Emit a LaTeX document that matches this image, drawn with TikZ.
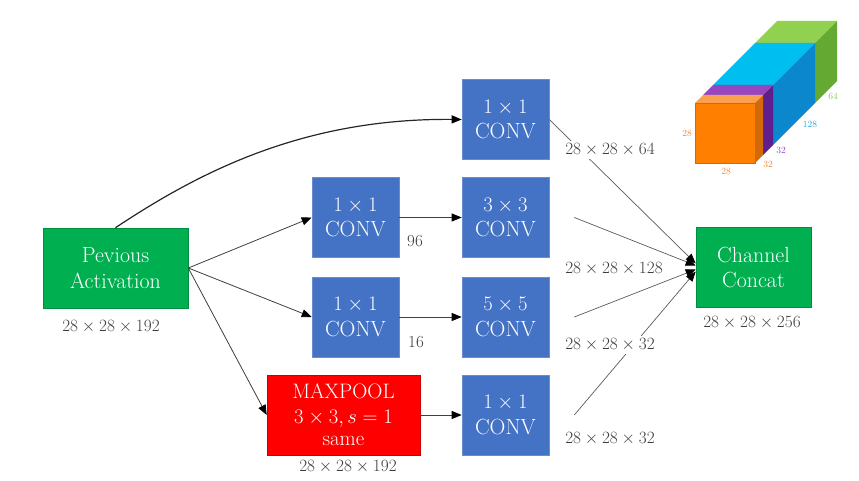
\documentclass[tikz,border=0pt]{standalone}
\usetikzlibrary{arrows.meta}
\definecolor{convblue}{RGB}{68,114,196}
\definecolor{actgreen}{RGB}{0,176,80}
\definecolor{poolred}{RGB}{255,0,0}
\definecolor{lblgray}{RGB}{60,60,60}
\definecolor{linegray}{RGB}{90,90,90}
\definecolor{orF}{RGB}{255,127,0}
\definecolor{orT}{RGB}{248,160,80}
\definecolor{orS}{RGB}{210,105,10}
\definecolor{puT}{RGB}{150,70,190}
\definecolor{puS}{RGB}{95,30,140}
\definecolor{blT}{RGB}{0,190,240}
\definecolor{blS}{RGB}{10,135,205}
\definecolor{grT}{RGB}{146,208,80}
\definecolor{grS}{RGB}{100,170,50}
\definecolor{orL}{RGB}{240,130,50}
\definecolor{puL}{RGB}{140,70,200}
\definecolor{blL}{RGB}{30,170,230}
\definecolor{grL}{RGB}{140,200,80}
\newcommand\cubeslab[4]{%
  \fill[#3] ({695+#1},{103-#1}) -- ({755+#1},{103-#1}) -- ({755+#2},{103-#2}) -- ({695+#2},{103-#2}) -- cycle;
  \fill[#4] ({755+#1},{103-#1}) -- ({755+#2},{103-#2}) -- ({755+#2},{163-#2}) -- ({755+#1},{163-#1}) -- cycle;
}
\tikzset{
  blk/.style={inner sep=0pt, align=center, text=white, line width=0.6bp,
    font=\fontsize{22}{26}\selectfont},
  convbox/.style={blk, fill=convblue, draw=convblue!80!white, minimum width=87bp, minimum height=80bp},
  actbox/.style={blk, fill=actgreen, draw=actgreen!80!black, minimum height=80bp},
  poolbox/.style={blk, fill=poolred, draw=poolred!80!black, minimum width=153bp, minimum height=80bp,
    font=\fontsize{21}{25}\selectfont},
  lbl/.style={inner sep=3bp, text=lblgray, font=\fontsize{17}{20}\selectfont},
  wlbl/.style={lbl, fill=white},
  cubelbl/.style={inner sep=0pt, font=\fontsize{9.5}{10}\selectfont},
  tip/.style={-{Triangle[length=10bp,width=8bp,color=black]}},
  arr/.style={tip, draw=linegray!70!black, line width=0.8bp},
  cline/.style={tip, draw=linegray, line width=0.7bp},
  curvearr/.style={tip, draw=black!85, line width=1.2bp}
}
\begin{document}
\begin{tikzpicture}[x=1bp,y=-1bp]
\useasboundingbox (0,0) rectangle (859,481);

% nodes
\node[actbox, minimum width=145bp] (prev) at (115.5,268) {Pevious\\Activation};
\node[convbox] (c1) at (355.5,217.5) {$1\times1$\\CONV};
\node[convbox] (c2) at (355.5,317) {$1\times1$\\CONV};
\node[convbox] (top) at (505.5,119.5) {$1\times1$\\CONV};
\node[convbox] (c3) at (505.5,217.5) {$3\times3$\\CONV};
\node[convbox] (c5) at (505.5,317) {$5\times5$\\CONV};
\node[convbox] (cb) at (505.5,415) {$1\times1$\\CONV};
\node[poolbox] (mp) at (343.5,415) {MAXPOOL\\$3\times3, s=1$\\[-3bp]same};
\node[actbox, minimum width=115bp] (cc) at (753.5,267.5) {Channel\\Concat};

% connectors
\draw[curvearr] (prev.north) .. controls (195,175) and (300,118) .. (top.west);
\draw[arr] (prev.east) -- (c1.west);
\draw[arr] (prev.east) -- (c2.west);
\draw[arr] (prev.east) -- (mp.west);
\draw[arr] (c1.east) -- (c3.west);
\draw[arr] (c2.east) -- (c5.west);
\draw[arr] (mp.east) -- (cb.west);

\draw[cline] (top.east) -- ([yshift=4bp]cc.west);
\draw[cline] ([xshift=25bp]c3.east) -- ([yshift=2bp]cc.west);
\draw[cline] ([xshift=25bp]c5.east) -- ([yshift=-2bp]cc.west);
\draw[cline] ([xshift=25bp]cb.east) -- ([yshift=-4bp]cc.west);

% labels
\node[lbl] (lprev) at (111,327) {$28\times28\times192$};
\node[lbl] (lmp) at (348,467) {$28\times28\times192$};
\node[lbl] (lcc) at (752,323) {$28\times28\times256$};
\node[lbl] (l96) at (415,241) {96};
\node[lbl] (l16) at (416,342) {16};
\node[wlbl] (l64) at (610,150) {$28\times28\times64$};
\node[wlbl] (l128) at (614,269) {$28\times28\times128$};
\node[wlbl] (l32a) at (610,345) {$28\times28\times32$};
\node[wlbl] (l32b) at (610,439) {$28\times28\times32$};

% cube
\cubeslab{60}{82}{grT}{grS}
\cubeslab{18}{60}{blT}{blS}
\cubeslab{8}{18}{puT}{puS}
\cubeslab{0}{8}{orT}{orS}
\fill[orF] (695,103) rectangle (755,163);
\draw[orS, line width=0.5bp] (695,103) rectangle (755,163);
\node[cubelbl, text=orL] (k28a) at (687,133) {28};
\node[cubelbl, text=orL] (k28b) at (726,171) {28};
\node[cubelbl, text=orL] (k32a) at (768,164) {32};
\node[cubelbl, text=puL] (k32b) at (781,150) {32};
\node[cubelbl, text=blL] (k128) at (810,124) {128};
\node[cubelbl, text=grL] (k64) at (833,96) {64};
\end{tikzpicture}
\end{document}
